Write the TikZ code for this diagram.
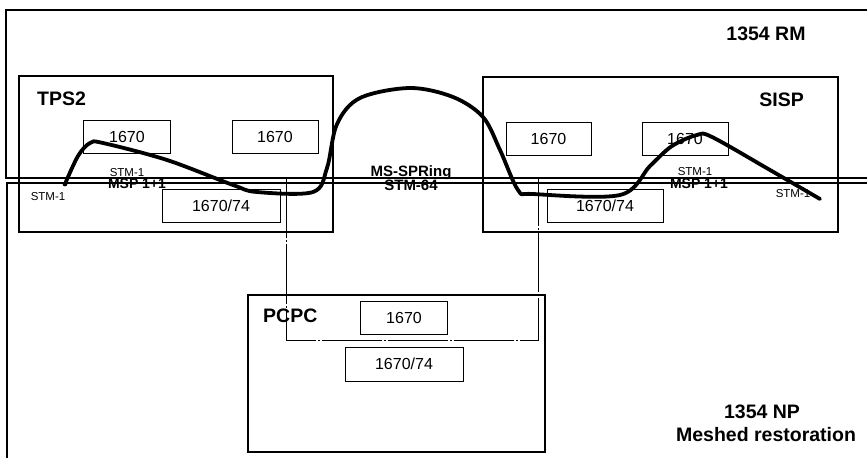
\documentclass[tikz,border=0pt]{standalone}
\usepackage{fontspec}
\setmainfont{Liberation Sans}
\usetikzlibrary{positioning}

\begin{document}
\begin{tikzpicture}[x=1pt,y=-1pt,
site/.style={draw,line width=1.1pt,inner sep=0pt},
unit/.style={draw,line width=0.9pt,minimum height=33pt,inner sep=0pt,font=\fontsize{16}{18}\selectfont},
title/.style={font=\fontsize{19.5}{21}\selectfont\bfseries,inner sep=0pt},
link/.style={font=\fontsize{14}{15}\selectfont\bfseries,inner sep=0pt},
tag/.style={font=\fontsize{11.5}{12}\selectfont,inner sep=0pt},
ring/.style={line width=3.8pt,line join=round,line cap=round}]
\useasboundingbox (0,0) rectangle (867,458);
% management domains
\draw[line width=1.2pt] (867,10) -| (6,178) -- (867,178);
\draw[line width=1.2pt] (867,183) -| (7,458);
\node[title] (rm) at (766,34) {1354 RM};
\node[title] (np) at (762,412) {1354 NP};
\node[title] (mesh) at (766,435) {Meshed restoration};
% sites
\node[site,minimum width=314pt,minimum height=156pt] (tps) at (176,154) {};
\node[site,minimum width=355pt,minimum height=155pt] (sisp) at (660.5,154.5) {};
\node[site,minimum width=297pt,minimum height=157pt] (pcpc) at (396.5,373.5) {};
\draw[line width=0.8pt,dash pattern=on 60pt off 2pt on 2pt off 2pt] (286,178) rectangle (538,340);
\node[title,anchor=west] (tpsname) at (37,99) {TPS2};
\node[title,anchor=east] (sispname) at (804,100) {SISP};
\node[title,anchor=west] (pcpcname) at (263,316) {PCPC};
% equipment
\node[unit,minimum width=87pt] (ta) at (127,136.5) {1670};
\node[unit,minimum width=86pt] (tb) at (275,136.5) {1670};
\node[unit,minimum width=118pt] (tc) at (221,205.5) {1670/74};
\node[unit,minimum width=85pt] (sa) at (548.5,138.5) {1670};
\node[unit,minimum width=86pt] (sb) at (685,138.5) {1670};
\node[unit,minimum width=116pt] (sc) at (605,205.5) {1670/74};
\node[unit,minimum width=87pt] (pa) at (404,317.5) {1670};
\node[unit,minimum width=118pt,minimum height=34pt] (pb) at (404,364) {1670/74};
% ring path
\coordinate (west) at (65,184);
\coordinate (east) at (820,199);
\fill (west) circle (2.4pt);
\draw[ring] plot[smooth,tension=0.55] coordinates {(west) (78,156) (90,143) (103,143) (167,160) (233,185) (257,192) (313,192) (327,168) (337,124) (360,98) (410,88) (453,97) (483,117) (500,150) (518,190) (533,194) (620,195) (650,166) (672,146) (697,135) (712,137) (770,170) (east)};
% link labels
\node[tag] (stmwa) at (48,197) {STM-1};
\node[tag] (stmwb) at (127,173) {STM-1};
\node[link] (mspw) at (137,184) {MSP 1+1};
\node[link,font=\fontsize{15}{16}\selectfont\bfseries] (spring) at (411,173) {MS-SPRing};
\node[link,font=\fontsize{15}{16}\selectfont\bfseries] (stm64) at (411,185) {STM-64};
\node[tag] (stmea) at (695,172) {STM-1};
\node[link] (mspe) at (699,184) {MSP 1+1};
\node[tag] (stmeb) at (793,194) {STM-1};
\end{tikzpicture}
\end{document}
